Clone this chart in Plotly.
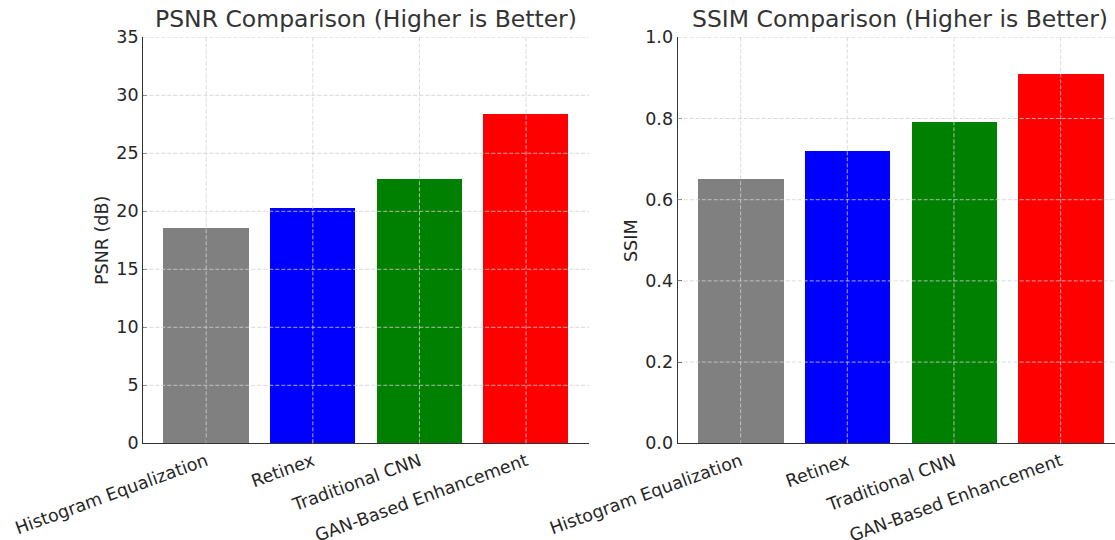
import plotly.graph_objects as go
from plotly.subplots import make_subplots

methods = ["Histogram Equalization", "Retinex", "Traditional CNN", "GAN-Based Enhancement"]
psnr_values = [18.5, 20.3, 22.8, 28.4]
ssim_values = [0.65, 0.72, 0.79, 0.91]
bar_colors = ["#808080", "#0000ff", "#008000", "#ff0000"]
psnr_ticks = [0, 5, 10, 15, 20, 25, 30, 35]
ssim_ticks = [0.0, 0.2, 0.4, 0.6, 0.8, 1.0]
ssim_ticktext = ["0.0", "0.2", "0.4", "0.6", "0.8", "1.0"]

W, H = 1115, 540
FONT = "DejaVu Sans"
TXT = "#262626"
GRID = "#d0d0d0"
TICK_SIZE = 17.5
TITLE_SIZE = 23.5

def px(x):
    return x / W

def py(y):
    return 1 - y / H

fig = make_subplots(rows=1, cols=2)
xpos = list(range(len(methods)))

fig.add_trace(go.Bar(x=xpos, y=psnr_values, marker=dict(color=bar_colors, line=dict(width=0)),
                     width=0.8, showlegend=False, hoverinfo="skip"), row=1, col=1)
fig.add_trace(go.Bar(x=xpos, y=ssim_values, marker=dict(color=bar_colors, line=dict(width=0)),
                     width=0.8, showlegend=False, hoverinfo="skip"), row=1, col=2)

ydom = [py(443.3), py(37.3)]
common_x = dict(tickmode="array", tickvals=xpos, ticktext=methods, tickangle=-20,
                ticks="inside", ticklen=4, tickwidth=1, tickcolor="#333333",
                showline=True, linecolor="#333333", linewidth=1.3, showgrid=False, zeroline=False,
                tickfont=dict(family=FONT, size=TICK_SIZE, color=TXT), fixedrange=True, automargin=False)
common_y = dict(ticks="inside", ticklen=4, tickwidth=1, tickcolor="#333333",
                showline=True, linecolor="#333333", linewidth=1.3, showgrid=False, zeroline=False,
                tickfont=dict(family=FONT, size=TICK_SIZE, color=TXT), fixedrange=True, automargin=False)

fig.update_layout(
    width=W, height=H,
    margin=dict(l=0, r=0, t=0, b=0),
    plot_bgcolor="white", paper_bgcolor="white",
    bargap=0,
    xaxis=dict(domain=[px(143.3), px(589)], range=[-0.59, 3.59], **common_x),
    xaxis2=dict(domain=[px(677.7), 1.0], range=[-0.59, 3.51], **common_x),
    yaxis=dict(domain=ydom, range=[0, 35], tickvals=psnr_ticks, **common_y),
    yaxis2=dict(domain=ydom, range=[0, 1.0], tickvals=ssim_ticks, ticktext=ssim_ticktext, **common_y),
)

shapes = []
for xr, yr, yticks in [("x", "y", psnr_ticks), ("x2", "y2", ssim_ticks)]:
    for t in yticks:
        if t == 0:
            continue
        shapes.append(dict(type="line", xref=xr + " domain", yref=yr, x0=0, x1=1, y0=t, y1=t,
                           line=dict(color=GRID, width=0.8, dash="4px,2px"), layer="above"))
    for xv in xpos:
        shapes.append(dict(type="line", xref=xr, yref=yr + " domain", x0=xv, x1=xv, y0=0, y1=1,
                           line=dict(color=GRID, width=0.8, dash="4px,2px"), layer="above"))
fig.update_layout(shapes=shapes)

annotations = [
    dict(text="PSNR Comparison (Higher is Better)", x=px(366), y=py(19), xref="paper", yref="paper",
         showarrow=False, font=dict(family=FONT, size=TITLE_SIZE, color="#333333"), xanchor="center", yanchor="middle"),
    dict(text="SSIM Comparison (Higher is Better)", x=px(900), y=py(19), xref="paper", yref="paper",
         showarrow=False, font=dict(family=FONT, size=TITLE_SIZE, color="#333333"), xanchor="center", yanchor="middle"),
    dict(text="PSNR (dB)", x=px(102), y=py(241), xref="paper", yref="paper", textangle=-90,
         showarrow=False, font=dict(family=FONT, size=TICK_SIZE, color=TXT), xanchor="center", yanchor="middle"),
    dict(text="SSIM", x=px(631), y=py(241), xref="paper", yref="paper", textangle=-90,
         showarrow=False, font=dict(family=FONT, size=TICK_SIZE, color=TXT), xanchor="center", yanchor="middle"),
]
fig.update_layout(annotations=annotations)

fig.write_html("out.html", config={"displayModeBar": False},
               post_script="document.body.style.margin='0';document.body.style.overflow='hidden';")
